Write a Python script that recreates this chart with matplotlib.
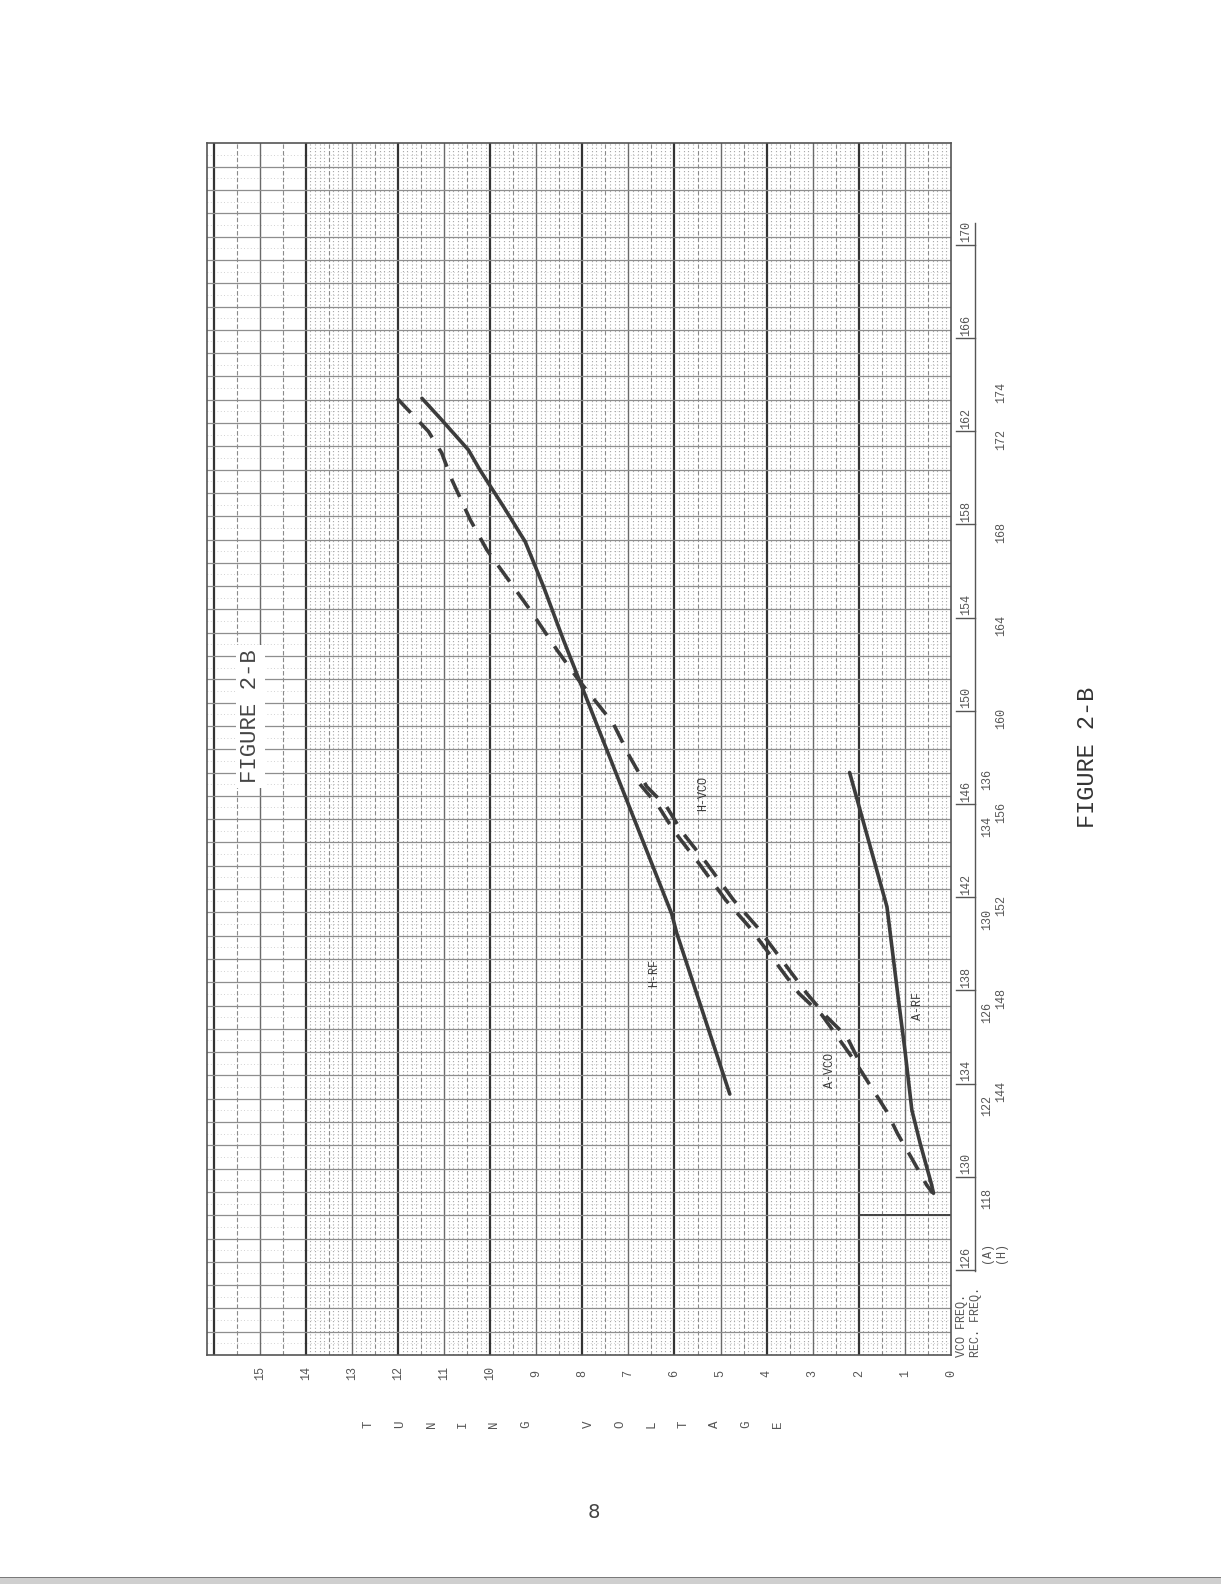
import numpy as np
import matplotlib.pyplot as plt
from matplotlib.transforms import blended_transform_factory
from matplotlib.patches import Rectangle

# curves: tuning voltage (V) vs VCO frequency (MHz)
h_rf_v = [11.48, 11.05, 10.47, 10.22, 9.71, 9.24, 8.84, 8.41, 7.98, 7.61, 6.06, 5.95, 4.80]
h_rf_f = [163.06, 162.13, 160.84, 159.98, 158.41, 156.91, 154.97, 152.69, 150.54, 148.68, 140.93, 140.10, 133.20]

h_vco_v = [12.02, 11.34, 11.05, 10.83, 10.43, 10.07, 9.60, 9.13, 8.55, 8.08, 7.33, 6.98, 6.60,
           6.17, 5.84, 5.30, 4.72, 4.21, 3.67, 3.13, 2.70, 2.26, 1.93]
h_vco_f = [163.06, 161.64, 160.71, 159.56, 157.84, 156.55, 155.26, 153.97, 152.26, 150.97, 149.11, 147.71, 146.39,
           145.53, 144.46, 143.10, 141.53, 140.38, 138.95, 137.52, 136.52, 135.66, 134.35]

a_vco_v = [0.40, 0.53, 0.84, 1.16, 1.39, 1.76, 2.08, 2.44, 2.80, 3.30, 3.84, 4.38, 4.89, 5.47, 6.00, 6.34, 6.75]
a_vco_f = [128.95, 129.30, 130.40, 131.50, 132.44, 133.59, 134.59, 135.59, 136.59, 137.52, 138.95, 140.38,
           141.53, 143.10, 144.46, 145.53, 146.50]

a_rf_v = [2.20, 1.39, 1.14, 1.00, 0.85, 0.67, 0.42, 0.38]
a_rf_f = [147.00, 141.24, 137.24, 135.09, 132.52, 131.09, 129.30, 128.94]

volt_ticks = list(range(16))
vco_ticks = [126, 130, 134, 138, 142, 146, 150, 154, 158, 162, 166, 170]
a_rec = [118, 122, 126, 130, 134, 136]
h_rec = [144, 148, 152, 156, 160, 164, 168, 172, 174]
IF = 10.7

W, H = 1221, 1584
mono = ['Liberation Mono', 'DejaVu Sans Mono']
ink = '#3c3c3c'

fig = plt.figure(figsize=(W / 100, H / 100), dpi=100)
fig.patch.set_facecolor('white')

# chart frame in page pixels
x0, x1 = 206.7, 951.0
y0, y1 = 143.4, 1355.0
ax = fig.add_axes([x0 / W, 1 - y1 / H, (x1 - x0) / W, (y1 - y0) / H])
ax.set_xlim(16.15, 0)
ax.set_ylim(122, 174)
ax.set_xticks([])
ax.set_yticks([])
for s in ax.spines.values():
    s.set_color('#555555')
    s.set_linewidth(1.2)

# graph paper
for v in np.arange(0.1, 14.0, 0.1):
    if abs(v * 2 - round(v * 2)) > 1e-6:
        ax.axvline(v, color='#a6a6a6', lw=0.8, ls=(0, (1, 2.0)), zorder=1)
for f in np.arange(122.5, 174, 0.5):
    if abs(f - round(f)) > 1e-6:
        ax.axhline(f, color='#c4c4c4', lw=0.6, ls=(0, (1, 3)), zorder=1)
for k in range(1, 33):
    v = k * 0.5
    if v >= 16.1:
        continue
    if k % 4 == 0:
        ax.axvline(v, color='#333333', lw=1.6, zorder=2)
    elif k % 2 == 0:
        ax.axvline(v, color='#6a6a6a', lw=1.0, zorder=2)
    else:
        ax.axvline(v, color='#8a8a8a', lw=0.8, ls=(0, (4, 2)), zorder=2)
for f in range(123, 174):
    ax.axhline(f, color='#8e8e8e', lw=0.9, zorder=2)
ax.axhline(128, xmin=1 - 2 / 16.15, xmax=1, color='#444444', lw=1.4, zorder=2)

# curves
lw = 2.6
ax.plot(h_rf_v, h_rf_f, color=ink, lw=lw, solid_capstyle='round', zorder=5)
ax.plot(a_rf_v, a_rf_f, color=ink, lw=lw, solid_capstyle='round', zorder=5)
ax.plot(h_vco_v, h_vco_f, color=ink, lw=lw, ls=(0, (5.5, 3.6)), zorder=5)
ax.plot(a_vco_v, a_vco_f, color=ink, lw=lw, ls=(1.5, (5.5, 3.6)), zorder=5)

lab = dict(rotation=90, ha='center', va='center', fontsize=8.5, family=mono, color='#3a3a3a', zorder=6)
ax.text(6.44, 138.4, 'H-RF', **lab)
ax.text(5.37, 146.1, 'H-VCO', **lab)
ax.text(2.63, 134.2, 'A-VCO', **lab)
ax.text(0.72, 137.0, 'A-RF', **lab)

ax.text(15.2, 149.4, 'FIGURE 2-B', rotation=90, ha='center', va='center', fontsize=16,
        family=mono, color='#444444', zorder=6,
        bbox=dict(facecolor='white', edgecolor='none', pad=3))

# voltage scale
tv = blended_transform_factory(ax.transData, ax.transAxes)
for v in volt_ticks:
    ax.text(v, -0.0149, str(v), transform=tv, rotation=90, ha='center', va='center',
            fontsize=8.5, family=mono, color='#555555', clip_on=False)

# frequency scales (right side)
tf = blended_transform_factory(fig.transFigure, ax.transData)
small = dict(transform=tf, rotation=90, ha='center', va='center', fontsize=8.5,
             family=mono, color='#555555', clip_on=False)
for f in vco_ticks:
    ax.text(966 / W, f + 0.2, str(f), **small)
    ax.plot([956 / W, 975 / W], [f - 0.35, f - 0.35], transform=tf, color='#555555',
            lw=1.0, clip_on=False)
ax.plot([975 / W, 975 / W], [125.6, 170.6], transform=tf, color='#555555', lw=1.0, clip_on=False)
for a in a_rec:
    ax.text(987 / W, a + IF, str(a), **small)
for h in h_rec:
    ax.text(1001 / W, h - IF, str(h), **small)
ax.text(987 / W, 126.4, '(A)', **small)
ax.text(1001 / W, 126.4, '(H)', **small)
ax.text(962 / W, 121.9, 'VCO FREQ.', transform=tf, rotation=90, rotation_mode='anchor',
        ha='left', va='center', fontsize=8.5, family=mono, color='#555555', clip_on=False)
ax.text(976 / W, 121.9, 'REC. FREQ.', transform=tf, rotation=90, rotation_mode='anchor',
        ha='left', va='center', fontsize=8.5, family=mono, color='#555555', clip_on=False)

# stacked axis title
word = 'TUNING VOLTAGE'
xs = np.linspace(368.6, 777.6, len(word))
for ch, xp in zip(word, xs):
    if ch != ' ':
        fig.text(xp / W, 1 - 1424 / H, ch, rotation=90, ha='center', va='center',
                 fontsize=9, family=mono, color='#555555')

fig.text(1088 / W, 1 - 757 / H, 'FIGURE 2-B', rotation=90, ha='center', va='center',
         fontsize=17, family=mono, color='#333333')
fig.text(594 / W, 1 - 1512 / H, '8', ha='center', va='center', fontsize=14,
         family=['DejaVu Sans'], color='#444444')

# scanned page edge
fig.add_artist(Rectangle((0, 0), 1, 6 / H, transform=fig.transFigure,
                         facecolor='#cfcfcf', edgecolor='none'))
fig.add_artist(Rectangle((0, 6 / H), 1, 1.5 / H, transform=fig.transFigure,
                         facecolor='#7a7a7a', edgecolor='none'))

fig.savefig('out.png', dpi=100, facecolor='white')
